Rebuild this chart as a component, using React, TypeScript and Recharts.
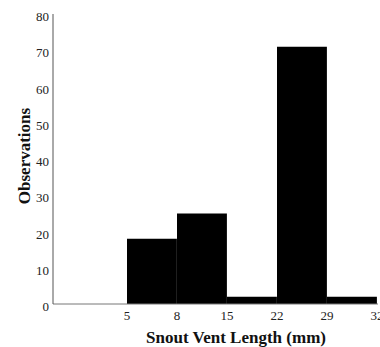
import React from 'react';
import { BarChart, Bar, XAxis, YAxis, Label } from 'recharts';

// bin edges (mm) shown under the axis, and counts per bin
const edgeLabels = ['5', '8', '15', '22', '29', '32'];
const counts = [18, 25, 2, 71, 2];
const yTicks = [0, 10, 20, 30, 40, 50, 60, 70, 80];

const FONT = '"Liberation Serif", "Times New Roman", serif';

const chartData = counts.map((n, i) => ({ bin: i + 0.5, n }));

const XTick = (props: any) => {
    const { x, y, payload } = props;
    return (
        <text x={x} y={y + 9.5} textAnchor="middle" fontFamily={FONT} fontSize={13} fill="#222">
            {edgeLabels[payload.value] ?? ''}
        </text>
    );
};

const YTick = (props: any) => {
    const { x, y, payload } = props;
    return (
        <text x={x} y={y + 7} textAnchor="end" fontFamily={FONT} fontSize={13} fill="#222">
            {payload.value}
        </text>
    );
};

const App: React.FC = () => {
    return (
        <div style={{ position: 'absolute', left: 0, top: 0, background: '#fff' }}>
            <BarChart
                width={380}
                height={347}
                data={chartData}
                margin={{ top: 14, right: 2, bottom: 0, left: 0 }}
                barGap={0}
            >
                <XAxis
                    dataKey="bin"
                    type="number"
                    domain={[-1.48, 5.02]}
                    ticks={[0, 1, 2, 3, 4, 5]}
                    interval={0}
                    height={43}
                    tickLine={false}
                    tickSize={6}
                    tickMargin={0}
                    axisLine={{ stroke: '#777' }}
                    tick={<XTick />}
                >
                    <Label
                        content={() => (
                            <text x={236} y={342.5} textAnchor="middle" fontFamily={FONT} fontSize={17} fontWeight="bold" fill="#111">
                                Snout Vent Length (mm)
                            </text>
                        )}
                    />
                </XAxis>
                <YAxis
                    type="number"
                    domain={[0, 80]}
                    ticks={yTicks}
                    interval={0}
                    width={53}
                    tickLine={false}
                    tickSize={4}
                    tickMargin={0}
                    axisLine={{ stroke: '#555' }}
                    tick={<YTick />}
                >
                    <Label
                        content={() => (
                            <text x={30} y={156} transform="rotate(-90, 30, 156)" textAnchor="middle" fontFamily={FONT} fontSize={17} fontWeight="bold" fill="#111">
                                Observations
                            </text>
                        )}
                    />
                </YAxis>
                <Bar dataKey="n" fill="#000" barSize={49.9} isAnimationActive={false} />
            </BarChart>
        </div>
    );
};

export default App;
